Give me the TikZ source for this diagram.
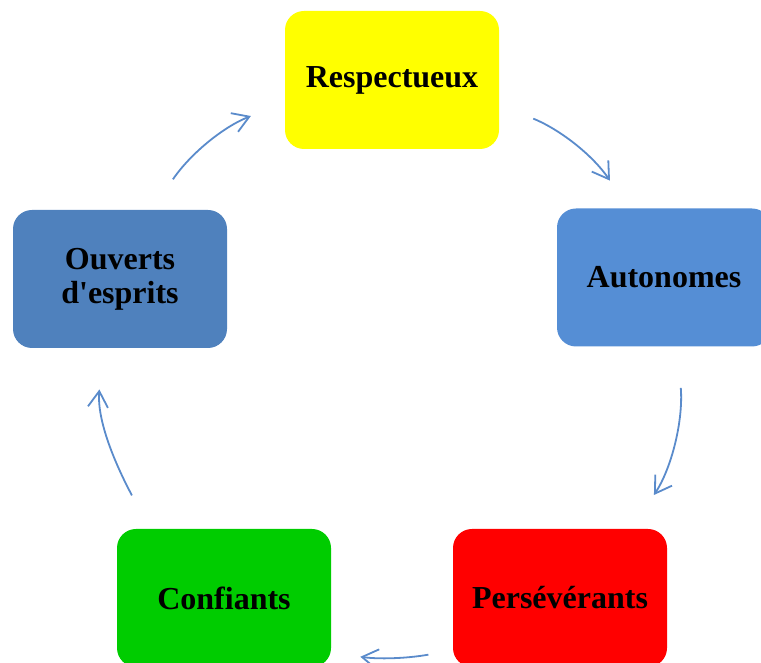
\documentclass[tikz,border=0pt]{standalone}
\usepackage{fontspec}
\setmainfont{Liberation Serif}
\usetikzlibrary{arrows.meta}
\definecolor{respyellow}{HTML}{FFFF00}
\definecolor{autoblue}{HTML}{558ED5}
\definecolor{ouvblue}{HTML}{4F81BD}
\definecolor{persred}{HTML}{FF0000}
\definecolor{confgreen}{HTML}{00CC00}
\definecolor{cycarrow}{HTML}{5A8BCB}
\tikzset{
  cell/.style={rounded corners=9.5pt, minimum width=107pt, minimum height=69pt, inner sep=2pt, align=center, font=\bfseries\fontsize{16}{17}\selectfont},
  cyc/.style={-{Straight Barb[length=8pt,width=10pt]}, line width=0.9pt, draw=cycarrow}}

\begin{document}
\begin{tikzpicture}[x=0.5pt, y=0.5pt]
  \clip (0,0) rectangle (761,663);
  % the five qualities, clockwise from the top
  \node[cell, fill=respyellow] (resp) at (392,583) {Respectueux};
  \node[cell, fill=autoblue] (auto) at (664,385.5) {Autonomes};
  \node[cell, fill=persred] (pers) at (560,65) {Persévérants};
  \node[cell, fill=confgreen] (conf) at (224,65) {Confiants};
  \node[cell, fill=ouvblue] (ouv) at (120,384) {Ouverts\\d\textquotesingle esprits};
  % arcs of the cycle
  \draw[cyc, shorten <=18.3pt, shorten >=18.1pt] (ouv.65.4) to[out=55.8, in=201.4] (resp.192.3);
  \draw[cyc, shorten <=18.3pt, shorten >=16.6pt] (resp.-13.1) to[out=-22.2, in=124.2] (auto.117.3);
  \draw[cyc, shorten <=20.6pt, shorten >=20.1pt] (auto.-79.3) to[out=-85.4, in=56.7] (pers.44.3);
  \draw[cyc, shorten <=12.3pt, shorten >=14.6pt] (pers.206.8) to[out=-170, in=-8] (conf.-27.2);
  \draw[cyc, shorten <=18.8pt, shorten >=20.6pt] (conf.137.3) to[out=118, in=265.4] (ouv.256.2);
\end{tikzpicture}
\end{document}
